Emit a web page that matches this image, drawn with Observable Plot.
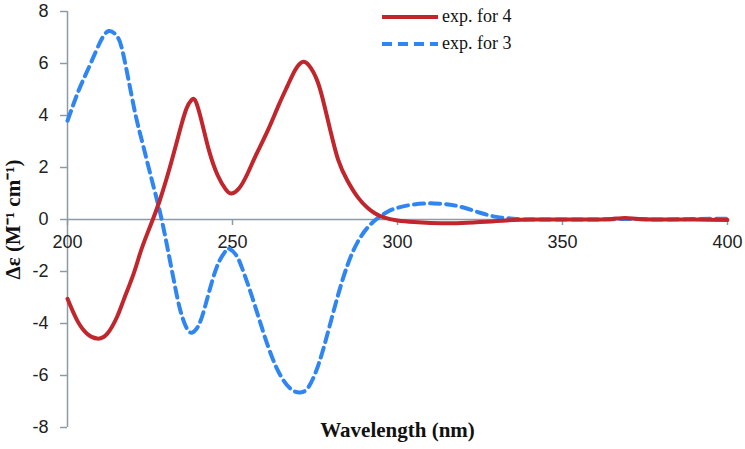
<!DOCTYPE html>
<html>
<head>
<meta charset="utf-8">
<script src="https://cdn.jsdelivr.net/npm/d3@7"></script>
<script src="https://cdn.jsdelivr.net/npm/@observablehq/plot@0.6"></script>
<style>
  html, body { margin: 0; padding: 0; background: #fff; }
  #wrap { position: relative; width: 745px; height: 449px; }
  #legend { position: absolute; left: 381px; top: 3px; font-family: "Liberation Serif", serif; font-size: 18px; color: #111; }
  #legend .row { display: flex; align-items: center; height: 27px; }
  #legend svg { margin-right: 3px; }
</style>
</head>
<body>
<div id="wrap"><div id="legend"></div></div>
<script>
// Series: exp. for 4 (red, solid)
const wl4 = [200,203,206,209,212,215,217,220,222,224,226,228,231,234,236,237.6,239,241,243,245.5,248,249.7,252,254.5,257,260.6,264,266.7,269,271,273,275.8,278,279.7,282,284.8,288,290.9,293,295.8,300,305,310,318,325,330,335,340,350,360,365,369,373,380,390,400];
const de4 = [-3.05,-3.9,-4.4,-4.58,-4.4,-3.75,-3.1,-2.1,-1.3,-0.6,0.05,0.75,2.0,3.4,4.25,4.6,4.5,3.6,2.6,1.7,1.15,1.0,1.2,1.75,2.45,3.4,4.4,5.15,5.75,6.05,5.95,5.3,4.3,3.4,2.3,1.5,0.85,0.45,0.25,0.08,-0.04,-0.1,-0.13,-0.14,-0.1,-0.06,-0.02,0.0,0.0,0.0,0.02,0.06,0.02,0.0,0.0,-0.02];
// Series: exp. for 3 (blue, dashed)
const wl3 = [200,202,204,207,210,212.5,215,217,220,222,224,226,228,230,232,234,236,237.8,240,242,244,246,248,249,251,253,256,259,262,265,268,270.6,273,276,279,282,285,288,291,294,297,300,305,311,316,320,325,330,335,340,350,360,370,380,390,400];
const de3 = [3.8,4.5,5.15,6.0,6.85,7.25,7.05,6.3,4.4,3.3,2.3,1.3,0.3,-0.9,-2.2,-3.4,-4.15,-4.35,-4.0,-3.2,-2.3,-1.6,-1.2,-1.12,-1.35,-1.9,-3.0,-4.2,-5.3,-6.1,-6.55,-6.65,-6.45,-5.6,-4.3,-2.9,-1.7,-0.85,-0.3,0.05,0.3,0.45,0.58,0.62,0.57,0.46,0.26,0.1,0.03,0.0,0.0,0.0,0.02,0.0,0.02,0.03];
const xTicks = [200,250,300,350,400];
const yTicks = [-8,-6,-4,-2,0,2,4,6,8];
const seriesNames = ["exp. for 4","exp. for 3"];
const xTitle = "Wavelength (nm)";
const yTitle = "Δε (M⁻¹ cm⁻¹)";

const red = "#c0262c", blue = "#2f86f2", gray = "#8d9ca4";
const s4 = wl4.map((w,i)=>({w, v: de4[i]}));
const s3 = wl3.map((w,i)=>({w, v: de3[i]}));

const chart = Plot.plot({
  width: 745, height: 449,
  marginLeft: 67, marginRight: 18, marginTop: 11, marginBottom: 22,
  x: {type: "linear", domain: [200,400], axis: null},
  y: {type: "linear", domain: [-8,8], axis: null},
  style: {fontFamily: "Liberation Sans, Arial, sans-serif", background: "white"},
  marks: [
    Plot.ruleX([200], {x: d=>d, stroke: gray, strokeWidth: 1.5}),
    Plot.ruleY([0], {y: d=>d, stroke: gray, strokeWidth: 1.5}),
    Plot.axisY({ticks: yTicks, tickSize: 7, tickPadding: 12, tickFormat: d=>String(d), fontSize: 18, stroke: gray, fill: "#222", strokeWidth: 1.5, label: null}),
    Plot.ruleX(xTicks, {x: d=>d, y1: 0, y2: -0.23, stroke: gray, strokeWidth: 1.5}),
    Plot.text(xTicks, {x: d=>d, y: 0, dy: 23, text: d=>String(d), fontSize: 18, fill: "#222"}),
    Plot.line(s3, {x: "w", y: "v", stroke: blue, strokeWidth: 4, strokeDasharray: "10,6", curve: "natural"}),
    Plot.line(s4, {x: "w", y: "v", stroke: red, strokeWidth: 4, curve: "natural"}),
    Plot.text([xTitle], {frameAnchor: "bottom", dy: 9, fontSize: 21, fontWeight: "bold", fontFamily: "Liberation Serif, serif", fill: "#111"}),
    Plot.text([yTitle], {frameAnchor: "left", textAnchor: "middle", dx: -54, rotate: -90, fontSize: 21, fontWeight: "bold", fontFamily: "Liberation Serif, serif", fill: "#111"})
  ]
});
document.getElementById("wrap").prepend(chart);

const legend = document.getElementById("legend");
[[seriesNames[0], red, null],[seriesNames[1], blue, "10,6"]].forEach(([name,col,dash])=>{
  const row = document.createElement("div"); row.className = "row";
  row.innerHTML = `<svg width="58" height="10"><line x1="1" y1="5" x2="57" y2="5" stroke="${col}" stroke-width="4" ${dash?`stroke-dasharray="${dash}"`:""}/></svg><span>${name}</span>`;
  legend.appendChild(row);
});
</script>
</body>
</html>
